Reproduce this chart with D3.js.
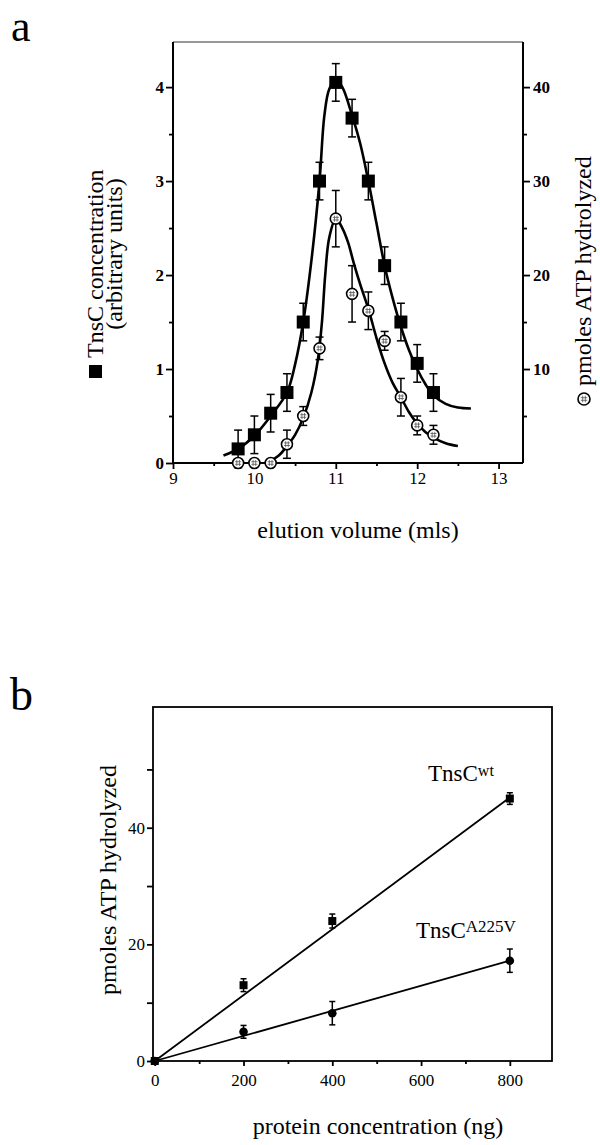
<!DOCTYPE html>
<html>
<head>
<meta charset="utf-8">
<script src="https://cdn.jsdelivr.net/npm/d3@7"></script>
<style>
  body { margin: 0; background: #fff; }
  text { font-family: "Liberation Serif", "Times New Roman", serif; fill: #000; }
</style>
</head>
<body>
<div id="graphic"></div>
<script>
// panel a: elution profile
var elution = [9.8, 10.0, 10.2, 10.4, 10.6, 10.8, 11.0, 11.2, 11.4, 11.6, 11.8, 12.0, 12.2];
var tnsc    = [0.15, 0.3, 0.53, 0.75, 1.5, 3.0, 4.05, 3.67, 3.0, 2.1, 1.5, 1.06, 0.75];
var tnscErr = [0.2, 0.2, 0.2, 0.2, 0.2, 0.2, 0.2, 0.2, 0.2, 0.2, 0.2, 0.2, 0.2];
var atp     = [0, 0, 0, 2, 5, 12.2, 26, 18, 16.2, 13, 7, 4, 3];
var atpErr  = [0, 0, 0, 1.5, 1, 1.2, 3, 3, 2, 1, 2, 1, 1];

// fitted curves
var tnscCurve = [[9.62,0.08],[9.8,0.15],[10.0,0.29],[10.2,0.5],[10.4,0.75],[10.5,1.05],[10.6,1.5],
  [10.7,2.15],[10.8,3.0],[10.86,3.7],[10.92,3.98],[11.0,4.08],[11.08,4.0],[11.2,3.7],[11.3,3.4],
  [11.4,3.0],[11.5,2.55],[11.6,2.1],[11.7,1.75],[11.8,1.45],[11.9,1.2],[12.0,1.0],[12.1,0.84],
  [12.2,0.72],[12.35,0.63],[12.5,0.59],[12.66,0.58]];
var atpCurve = [[10.15,0],[10.3,0.8],[10.4,1.8],[10.5,3.0],[10.6,4.8],[10.7,7.5],[10.78,11],
  [10.83,15],[10.87,20],[10.92,24],[11.0,26],[11.08,25],[11.15,23.5],[11.22,21.3],[11.3,19],
  [11.4,16.4],[11.5,13.3],[11.6,10.6],[11.7,8.5],[11.8,7.0],[11.9,5.4],[12.0,4.2],[12.1,3.3],
  [12.2,2.7],[12.35,2.1],[12.5,1.8]];

var xTicksA = [9, 10, 11, 12, 13];
var xMinorA = [9.5, 10.5, 11.5, 12.5];
var yTicksA = [0, 1, 2, 3, 4];
var yMinorA = [0.5, 1.5, 2.5, 3.5];
var rTicksA = [10, 20, 30, 40];
var rMinorA = [5, 15, 25, 35];

// panel b: ATP hydrolysis vs protein
var protein = [0, 200, 400, 800];
var wt      = [0, 13, 24, 45];
var wtErr   = [0, 1.1, 1.2, 1.0];
var mut     = [0, 5, 8.2, 17.2];
var mutErr  = [0, 1.1, 2, 2];
var wtFit   = [[0, 0], [800, 45.2]];
var mutFit  = [[0, 0], [800, 17.2]];

var xTicksB = [0, 200, 400, 600, 800];
var xMinorB = [100, 300, 500, 700];
var yTicksB = [0, 20, 40];
var yMinorB = [10, 30, 50];

var width = 600, height = 1145;
var serif = '"Liberation Serif", "Times New Roman", serif';
var svg = d3.select("#graphic").append("svg")
  .attr("width", width).attr("height", height);

function styleAxis(g, size, weight) {
  g.attr("font-family", serif).attr("font-size", size).attr("font-weight", weight);
  g.select(".domain").remove();
  g.selectAll(".tick line").attr("stroke", "#000").attr("stroke-width", 1.8);
  g.selectAll(".tick text").attr("font-family", serif).attr("font-weight", weight)
    .style("font-size", size + "px").style("font-weight", weight).attr("fill", "#000");
}

function drawCircleMarker(g, cx, cy, r) {
  g.append("circle").attr("cx", cx).attr("cy", cy).attr("r", r)
    .attr("fill", "#fff").attr("stroke", "#000").attr("stroke-width", 1.6);
  var h = r * 0.55;
  [-1.3, 1.3].forEach(function(o) {
    g.append("line").attr("x1", cx + o).attr("x2", cx + o).attr("y1", cy - h).attr("y2", cy + h)
      .attr("stroke", "#555").attr("stroke-width", 0.8);
    g.append("line").attr("y1", cy + o).attr("y2", cy + o).attr("x1", cx - h).attr("x2", cx + h)
      .attr("stroke", "#555").attr("stroke-width", 0.8);
  });
}

function errorBars(g, xs, ys, errs, x, y, cap) {
  xs.forEach(function(d, i) {
    if (!errs[i]) return;
    var cx = x(d), y1 = y(ys[i] - errs[i]), y2 = y(ys[i] + errs[i]);
    g.append("line").attr("x1", cx).attr("x2", cx).attr("y1", y1).attr("y2", y2)
      .attr("stroke", "#000").attr("stroke-width", 1.5);
    [y1, y2].forEach(function(yy) {
      g.append("line").attr("x1", cx - cap / 2).attr("x2", cx + cap / 2).attr("y1", yy).attr("y2", yy)
        .attr("stroke", "#000").attr("stroke-width", 1.5);
    });
  });
}

// ---------------- panel a ----------------
var A = {left: 173, right: 523, top: 42, bottom: 463};
var xa = d3.scaleLinear().domain([9, 13.3]).range([A.left, A.right]);
var ya = d3.scaleLinear().domain([0, 4.48]).range([A.bottom, A.top]);
var ra = d3.scaleLinear().domain([0, 44.8]).range([A.bottom, A.top]);

var pa = svg.append("g");

pa.append("line").attr("x1", A.left).attr("x2", A.right).attr("y1", A.top).attr("y2", A.top)
  .attr("stroke", "#333").attr("stroke-width", 1.2);
pa.append("line").attr("x1", A.left).attr("x2", A.left).attr("y1", A.top).attr("y2", A.bottom)
  .attr("stroke", "#000").attr("stroke-width", 2);
pa.append("line").attr("x1", A.right).attr("x2", A.right).attr("y1", A.top).attr("y2", A.bottom)
  .attr("stroke", "#000").attr("stroke-width", 2);
pa.append("line").attr("x1", A.left).attr("x2", A.right).attr("y1", A.bottom).attr("y2", A.bottom)
  .attr("stroke", "#000").attr("stroke-width", 2);

pa.append("g").attr("transform", "translate(0," + A.bottom + ")")
  .call(d3.axisBottom(xa).tickValues(xTicksA).tickSize(6).tickPadding(3).tickFormat(d3.format("d")))
  .call(styleAxis, 17, "normal");
pa.append("g").attr("transform", "translate(0," + A.bottom + ")")
  .call(d3.axisBottom(xa).tickValues(xMinorA).tickSize(3).tickFormat(""))
  .call(styleAxis, 17, "normal");
pa.append("g").attr("transform", "translate(" + A.left + ",0)")
  .call(d3.axisLeft(ya).tickValues(yTicksA).tickSize(7).tickPadding(2).tickFormat(d3.format("d")))
  .call(styleAxis, 17, "bold");
pa.append("g").attr("transform", "translate(" + A.left + ",0)")
  .call(d3.axisLeft(ya).tickValues(yMinorA).tickSize(4).tickFormat(""))
  .call(styleAxis, 17, "bold");
pa.append("g").attr("transform", "translate(" + A.right + ",0)")
  .call(d3.axisRight(ra).tickValues(rTicksA).tickSize(7).tickPadding(3).tickFormat(d3.format("d")))
  .call(styleAxis, 17, "bold");
pa.append("g").attr("transform", "translate(" + A.right + ",0)")
  .call(d3.axisRight(ra).tickValues(rMinorA).tickSize(4).tickFormat(""))
  .call(styleAxis, 17, "bold");

var curveLine = d3.line().curve(d3.curveCatmullRom.alpha(0.5));
pa.append("path")
  .attr("d", curveLine.x(function(d) { return xa(d[0]); }).y(function(d) { return ya(d[1]); })(tnscCurve))
  .attr("fill", "none").attr("stroke", "#000").attr("stroke-width", 2.6);
pa.append("path")
  .attr("d", curveLine.x(function(d) { return xa(d[0]); }).y(function(d) { return ra(d[1]); })(atpCurve))
  .attr("fill", "none").attr("stroke", "#000").attr("stroke-width", 2.6);

errorBars(pa, elution, tnsc, tnscErr, xa, ya, 8);
errorBars(pa, elution, atp, atpErr, xa, ra, 8);

var sq = 13;
elution.forEach(function(d, i) {
  pa.append("rect").attr("x", xa(d) - sq / 2).attr("y", ya(tnsc[i]) - sq / 2)
    .attr("width", sq).attr("height", sq).attr("fill", "#000");
});
elution.forEach(function(d, i) {
  drawCircleMarker(pa, xa(d), ra(atp[i]), 5.5);
});

// titles
svg.append("text").attr("x", 11).attr("y", 41).style("font-size", "44px").text("a");

pa.append("text").attr("x", 358).attr("y", 538)
  .attr("text-anchor", "middle").style("font-size", "24px").text("elution volume (mls)");

var lt = pa.append("g").attr("transform", "translate(103,358) rotate(-90)");
lt.append("text").attr("x", 0).attr("y", 0).style("font-size", "24px").text("TnsC concentration");
lt.append("rect").attr("x", -20).attr("y", -14).attr("width", 13).attr("height", 13).attr("fill", "#000");
pa.append("text").attr("transform", "translate(122,254) rotate(-90)").attr("text-anchor", "middle")
  .style("font-size", "24px").text("(arbitrary units)");

var rt = pa.append("g").attr("transform", "translate(591,386) rotate(-90)");
rt.append("text").attr("x", 0).attr("y", 0).style("font-size", "24px").text("pmoles ATP hydrolyzed");
drawCircleMarker(rt, -13, -7, 6);

// ---------------- panel b ----------------
var B = {left: 153, right: 552, top: 707, bottom: 1061};
var xb = d3.scaleLinear().domain([-4, 895]).range([B.left, B.right]);
var yb = d3.scaleLinear().domain([0, 60.7]).range([B.bottom, B.top]);

var pb = svg.append("g");
pb.append("rect").attr("x", B.left).attr("y", B.top).attr("width", B.right - B.left)
  .attr("height", B.bottom - B.top).attr("fill", "none").attr("stroke", "#000").attr("stroke-width", 1.8);

pb.append("g").attr("transform", "translate(0," + B.bottom + ")")
  .call(d3.axisBottom(xb).tickValues(xTicksB).tickSize(5).tickPadding(8).tickFormat(d3.format("d")))
  .call(styleAxis, 17, "normal");
pb.append("g").attr("transform", "translate(0," + B.bottom + ")")
  .call(d3.axisBottom(xb).tickValues(xMinorB).tickSize(3).tickFormat(""))
  .call(styleAxis, 17, "normal");
pb.append("g").attr("transform", "translate(" + B.left + ",0)")
  .call(d3.axisLeft(yb).tickValues(yTicksB).tickSize(6).tickPadding(2).tickFormat(d3.format("d")))
  .call(styleAxis, 17, "normal");
pb.append("g").attr("transform", "translate(" + B.left + ",0)")
  .call(d3.axisLeft(yb).tickValues(yMinorB).tickSize(6).tickFormat(""))
  .call(styleAxis, 17, "normal");

var fit = d3.line().x(function(d) { return xb(d[0]); }).y(function(d) { return yb(d[1]); });
pb.append("path").attr("d", fit(wtFit)).attr("fill", "none").attr("stroke", "#000").attr("stroke-width", 1.8);
pb.append("path").attr("d", fit(mutFit)).attr("fill", "none").attr("stroke", "#000").attr("stroke-width", 1.8);

errorBars(pb, protein, wt, wtErr, xb, yb, 6);
errorBars(pb, protein, mut, mutErr, xb, yb, 6);

protein.forEach(function(d, i) {
  pb.append("rect").attr("x", xb(d) - 4).attr("y", yb(wt[i]) - 4).attr("width", 8).attr("height", 8)
    .attr("fill", "#000");
  pb.append("circle").attr("cx", xb(d)).attr("cy", yb(mut[i])).attr("r", 4.3).attr("fill", "#000");
});

svg.append("text").attr("x", 10).attr("y", 710).style("font-size", "46px").text("b");

var l1 = pb.append("text").attr("x", 428).attr("y", 781).style("font-size", "23px");
l1.append("tspan").text("TnsC");
l1.append("tspan").attr("dy", -5).style("font-size", "16px").text("wt");
var l2 = pb.append("text").attr("x", 416).attr("y", 938).style("font-size", "23px");
l2.append("tspan").text("TnsC");
l2.append("tspan").attr("dy", -6).style("font-size", "17px").text("A225V");

pb.append("text").attr("transform", "translate(116,880) rotate(-90)").attr("text-anchor", "middle")
  .style("font-size", "24px").text("pmoles ATP hydrolyzed");
pb.append("text").attr("x", 378).attr("y", 1134).attr("text-anchor", "middle")
  .style("font-size", "24px").text("protein concentration (ng)");
</script>
</body>
</html>
